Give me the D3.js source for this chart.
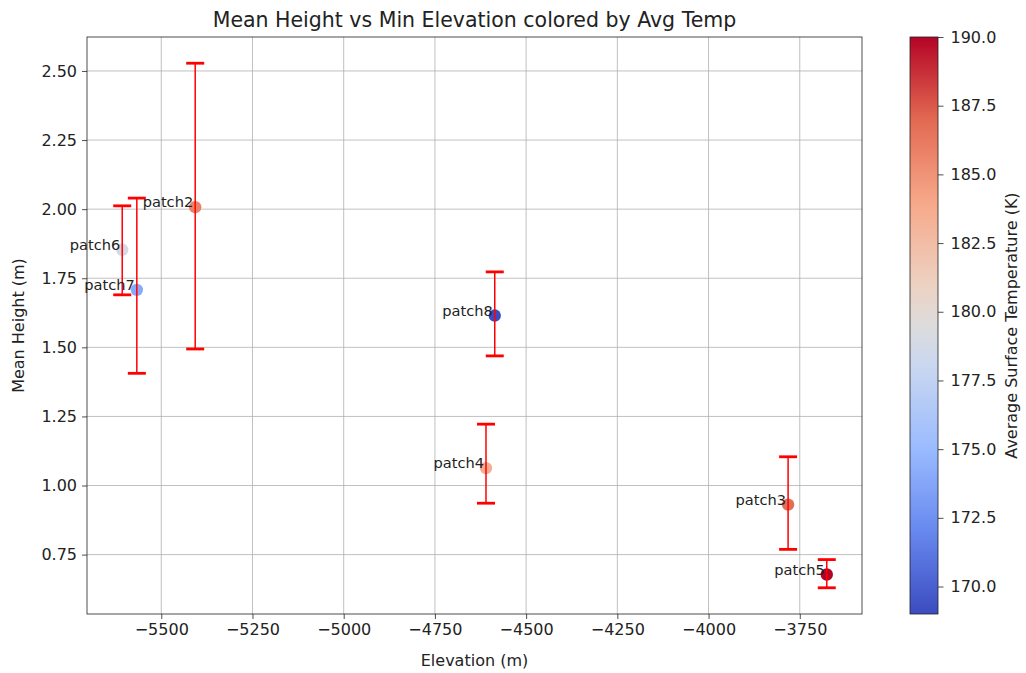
<!DOCTYPE html>
<html>
<head>
<meta charset="utf-8">
<script src="https://cdn.jsdelivr.net/npm/d3@7"></script>
<style>
  body { margin: 0; background: #fff; }
  text { font-family: "DejaVu Sans", sans-serif; fill: #222; }
  .axis text { font-size: 16px; fill: #222; }
  .axis path, .axis line { stroke: #222; stroke-width: 0.8; }
  .grid line { stroke: #b0b0b0; stroke-width: 0.8; }
</style>
</head>
<body>
<div id="chart-area"></div>
<script>
// values
var patches   = ["patch2", "patch3", "patch4", "patch5", "patch6", "patch7", "patch8"];
var elevation = [-5407, -3782, -4610, -3676, -5607, -5567, -4586];
var meanHeight = [2.007, 0.931, 1.063, 0.678, 1.853, 1.708, 1.615];
var errLow  = [0.513, 0.162, 0.127, 0.048, 0.163, 0.302, 0.146];
var errHigh = [0.521, 0.173, 0.159, 0.054, 0.159, 0.332, 0.158];
var avgTemp = [185.8, 186.8, 183.6, 190.0, 179.0, 174.0, 169.0];

var xTicks = [-5500, -5250, -5000, -4750, -4500, -4250, -4000, -3750];
var yTicks = [0.75, 1.00, 1.25, 1.50, 1.75, 2.00, 2.25, 2.50];
var cTicks = [170.0, 172.5, 175.0, 177.5, 180.0, 182.5, 185.0, 187.5, 190.0];
var tempRange = [169.0, 190.0];

// matplotlib coolwarm stops
var coolwarm = ["#3b4cc0", "#6788ee", "#9abbff", "#c9d7f0", "#dddcdc", "#edd1c2", "#f7a889", "#e26952", "#b40426"];
var coolwarmPos = [0, 1/7, 2/7, 3/7, 0.5, 4/7, 5/7, 6/7, 1];

var margin = {top: 37, right: 164, bottom: 59, left: 87},
    width = 1026 - margin.left - margin.right,
    height = 673 - margin.top - margin.bottom;

var data = patches.map(function(p, i) {
    return {
        name: p,
        elev: elevation[i],
        h: meanHeight[i],
        lo: meanHeight[i] - errLow[i],
        hi: meanHeight[i] + errHigh[i],
        temp: avgTemp[i]
    };
});

var svg = d3.select("#chart-area")
    .append("svg")
    .attr("width", 1026)
    .attr("height", 673)
    .append("g")
    .attr("transform", "translate(" + margin.left + "," + margin.top + ")");

// 5% padding like matplotlib
function pad(ext) {
    var d = (ext[1] - ext[0]) * 0.05;
    return [ext[0] - d, ext[1] + d];
}
var xExtent = pad(d3.extent(data, d => d.elev));
var yExtent = pad([d3.min(data, d => d.lo), d3.max(data, d => d.hi)]);

var xScale = d3.scaleLinear().domain(xExtent).range([0, width]);
var yScale = d3.scaleLinear().domain(yExtent).range([height, 0]);

var tScale = d3.scaleLinear().domain(coolwarmPos).range(coolwarm).interpolate(d3.interpolateRgb);
var colorScale = function(v) {
    return tScale((v - tempRange[0]) / (tempRange[1] - tempRange[0]));
};

// grid
svg.append("g").attr("class", "grid")
    .selectAll("line").data(xTicks).enter().append("line")
    .attr("x1", d => xScale(d)).attr("x2", d => xScale(d))
    .attr("y1", 0).attr("y2", height);
svg.append("g").attr("class", "grid")
    .selectAll("line").data(yTicks).enter().append("line")
    .attr("y1", d => yScale(d)).attr("y2", d => yScale(d))
    .attr("x1", 0).attr("x2", width);

// axes
svg.append("g")
    .attr("class", "axis")
    .attr("transform", "translate(0," + height + ")")
    .call(d3.axisBottom(xScale).tickValues(xTicks).tickSize(5).tickPadding(5).tickFormat(d3.format("d")))
    .call(g => g.select(".domain").remove());

svg.append("g")
    .attr("class", "axis")
    .call(d3.axisLeft(yScale).tickValues(yTicks).tickSize(5).tickPadding(5).tickFormat(d3.format(".2f")))
    .call(g => g.select(".domain").remove());

svg.append("rect")
    .attr("width", width).attr("height", height)
    .attr("fill", "none").attr("stroke", "#222").attr("stroke-width", 0.8);

// points
svg.selectAll("circle.pt")
    .data(data)
    .enter()
    .append("circle")
    .attr("class", "pt")
    .attr("cx", d => xScale(d.elev))
    .attr("cy", d => yScale(d.h))
    .attr("r", 6.2)
    .attr("fill", d => colorScale(d.temp));

// error bars
var eb = svg.selectAll("g.eb").data(data).enter().append("g").attr("class", "eb");
eb.append("line")
    .attr("x1", d => xScale(d.elev)).attr("x2", d => xScale(d.elev))
    .attr("y1", d => yScale(d.lo)).attr("y2", d => yScale(d.hi))
    .attr("stroke", "red").attr("stroke-width", 1.5);
["lo", "hi"].forEach(function(k) {
    eb.append("line")
        .attr("x1", d => xScale(d.elev) - 9).attr("x2", d => xScale(d.elev) + 9)
        .attr("y1", d => yScale(d[k])).attr("y2", d => yScale(d[k]))
        .attr("stroke", "red").attr("stroke-width", 2.8);
});

// point labels
svg.selectAll("text.lbl")
    .data(data)
    .enter()
    .append("text")
    .attr("class", "lbl")
    .attr("x", d => xScale(d.elev) - 2)
    .attr("y", d => yScale(d.h))
    .attr("text-anchor", "end")
    .style("font-size", "14.6px")
    .text(d => d.name);

// titles
svg.append("text")
    .attr("x", width / 2)
    .attr("y", -10)
    .attr("text-anchor", "middle")
    .style("font-size", "20.5px")
    .text("Mean Height vs Min Elevation colored by Avg Temp");

svg.append("text")
    .attr("x", width / 2)
    .attr("y", height + 52)
    .attr("text-anchor", "middle")
    .style("font-size", "16px")
    .text("Elevation (m)");

svg.append("text")
    .attr("transform", "rotate(-90)")
    .attr("x", -height / 2)
    .attr("y", -margin.left + 24)
    .attr("text-anchor", "middle")
    .style("font-size", "16px")
    .text("Mean Height (m)");

// colorbar
var cbX = 823, cbW = 28;
var defs = svg.append("defs");
var grad = defs.append("linearGradient")
    .attr("id", "cw-grad")
    .attr("x1", "0%").attr("y1", "100%")
    .attr("x2", "0%").attr("y2", "0%");
coolwarm.forEach(function(c, i) {
    grad.append("stop")
        .attr("offset", (coolwarmPos[i] * 100) + "%")
        .attr("stop-color", c);
});
svg.append("rect")
    .attr("x", cbX).attr("y", 0)
    .attr("width", cbW).attr("height", height)
    .style("fill", "url(#cw-grad)")
    .attr("stroke", "#222").attr("stroke-width", 0.8);

var cScale = d3.scaleLinear().domain(tempRange).range([height, 0]);
svg.append("g")
    .attr("class", "axis")
    .attr("transform", "translate(" + (cbX + cbW) + ",0)")
    .call(d3.axisRight(cScale).tickValues(cTicks).tickSize(5.5).tickPadding(7).tickFormat(d3.format(".1f")))
    .call(g => g.select(".domain").remove());

svg.append("text")
    .attr("transform", "rotate(-90)")
    .attr("x", -height / 2)
    .attr("y", 1017 - margin.left)
    .attr("text-anchor", "middle")
    .style("font-size", "16px")
    .text("Average Surface Temperature (K)");
</script>
</body>
</html>
